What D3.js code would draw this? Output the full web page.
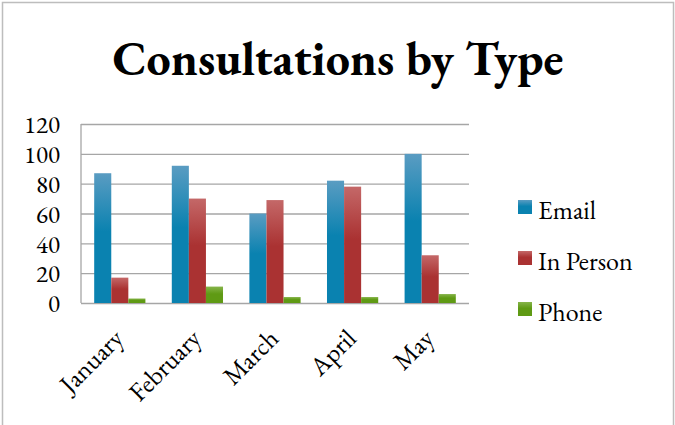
<!DOCTYPE html>
<html>
<head>
<meta charset="utf-8">
<script src="https://cdn.jsdelivr.net/npm/d3@7"></script>
<style>
  body { margin: 0; background: #fff; }
</style>
</head>
<body>
<svg id="chart" width="675" height="425" font-family="'EB Garamond', 'Liberation Serif', serif"></svg>
<script>
const months = ['January', 'February', 'March', 'April', 'May']
const seriesNames = ['Email', 'In Person', 'Phone']
const email = [87, 92, 60, 82, 100]
const inPerson = [17, 70, 69, 78, 32]
const phone = [3, 11, 4, 4, 6]
const yTicks = [0, 20, 40, 60, 80, 100, 120]

const FONT = "'EB Garamond', 'Liberation Serif', serif"

const seriesValues = [email, inPerson, phone]
const data = months.map((m, i) => ({
  month: m,
  values: seriesNames.map((s, j) => ({ key: s, value: seriesValues[j][i] }))
}))

// gradient stops: top colour, bottom colour
const colors = {
  'Email': ['#5a9cc2', '#0a82b0'],
  'In Person': ['#c46868', '#aa3232'],
  'Phone': ['#86b44a', '#5f9a14']
}

const svg = d3.select('#chart')

// outer frame
svg.append('rect')
  .attr('x', 2.5).attr('y', 2.5)
  .attr('width', 671).attr('height', 440)
  .attr('fill', 'none')
  .attr('stroke', '#bdbdbd')
  .attr('stroke-width', 1.5)

const defs = svg.append('defs')
seriesNames.forEach((s, i) => {
  const g = defs.append('linearGradient')
    .attr('id', 'grad' + i)
    .attr('x1', 0).attr('y1', 0).attr('x2', 0).attr('y2', 1)
  g.append('stop').attr('offset', '0%').attr('stop-color', colors[s][0])
  g.append('stop').attr('offset', '45%').attr('stop-color', colors[s][1])
  g.append('stop').attr('offset', '100%').attr('stop-color', colors[s][1])
})

const plotLeft = 81, plotRight = 469, plotTop = 124, plotBottom = 303

const x0 = d3.scaleBand()
  .domain(months)
  .range([plotLeft, plotRight])
  .paddingInner(0.34)
  .paddingOuter(0.17)

const x1 = d3.scaleBand()
  .domain(seriesNames)
  .range([0, x0.bandwidth()])

const y = d3.scaleLinear()
  .domain([0, 120])
  .range([plotBottom, plotTop])

// grid lines
svg.append('g')
  .attr('transform', `translate(${plotLeft},0)`)
  .call(d3.axisLeft(y).tickValues(yTicks).tickSize(-(plotRight - plotLeft)).tickFormat(''))
  .call(g => g.select('.domain').remove())
  .call(g => g.selectAll('line').attr('stroke', '#a6a6a6').attr('stroke-width', 1.3))

// y axis labels
svg.append('g')
  .attr('transform', `translate(${plotLeft},0)`)
  .call(d3.axisLeft(y).tickValues(yTicks).tickSize(0).tickPadding(21))
  .attr('font-family', FONT)
  .attr('font-size', 25)
  .call(g => g.select('.domain').remove())
  .call(g => g.selectAll('text')
    .attr('fill', '#000')
    .style('font-variant-numeric', 'lining-nums')
    .attr('dy', '0.35em'))

// left axis line
svg.append('line')
  .attr('x1', plotLeft).attr('x2', plotLeft)
  .attr('y1', plotTop).attr('y2', plotBottom)
  .attr('stroke', '#a6a6a6').attr('stroke-width', 1.3)

// bars
const groups = svg.selectAll('.grp')
  .data(data)
  .enter()
  .append('g')
  .attr('class', 'grp')
  .attr('transform', d => `translate(${x0(d.month)},0)`)

groups.selectAll('rect')
  .data(d => d.values)
  .enter()
  .append('rect')
  .attr('x', d => x1(d.key))
  .attr('y', d => y(d.value))
  .attr('width', x1.bandwidth())
  .attr('height', d => plotBottom - y(d.value))
  .attr('fill', d => `url(#grad${seriesNames.indexOf(d.key)})`)

// x axis labels
svg.append('g')
  .attr('transform', `translate(0,${plotBottom})`)
  .call(d3.axisBottom(x0).tickSize(0).tickPadding(0))
  .attr('font-family', FONT)
  .attr('font-size', 26)
  .call(g => g.select('.domain').remove())
  .call(g => g.selectAll('text')
    .attr('fill', '#000')
    .attr('text-anchor', 'end')
    .attr('dy', 0)
    .attr('transform', 'translate(5,37) rotate(-45)'))

// title
svg.append('text')
  .attr('x', 338)
  .attr('y', 75)
  .attr('text-anchor', 'middle')
  .attr('font-family', FONT)
  .attr('font-size', 48)
  .attr('font-weight', 'bold')
  .text('Consultations by Type')

// legend
const legend = svg.selectAll('.legend')
  .data(seriesNames)
  .enter()
  .append('g')
  .attr('class', 'legend')
  .attr('transform', (d, i) => `translate(518,${200 + i * 51})`)

legend.append('rect')
  .attr('width', 14).attr('height', 14)
  .attr('fill', (d, i) => `url(#grad${i})`)

legend.append('text')
  .attr('x', 20)
  .attr('y', 19)
  .attr('font-family', FONT)
  .attr('font-size', 26)
  .text(d => d)
</script>
</body>
</html>
